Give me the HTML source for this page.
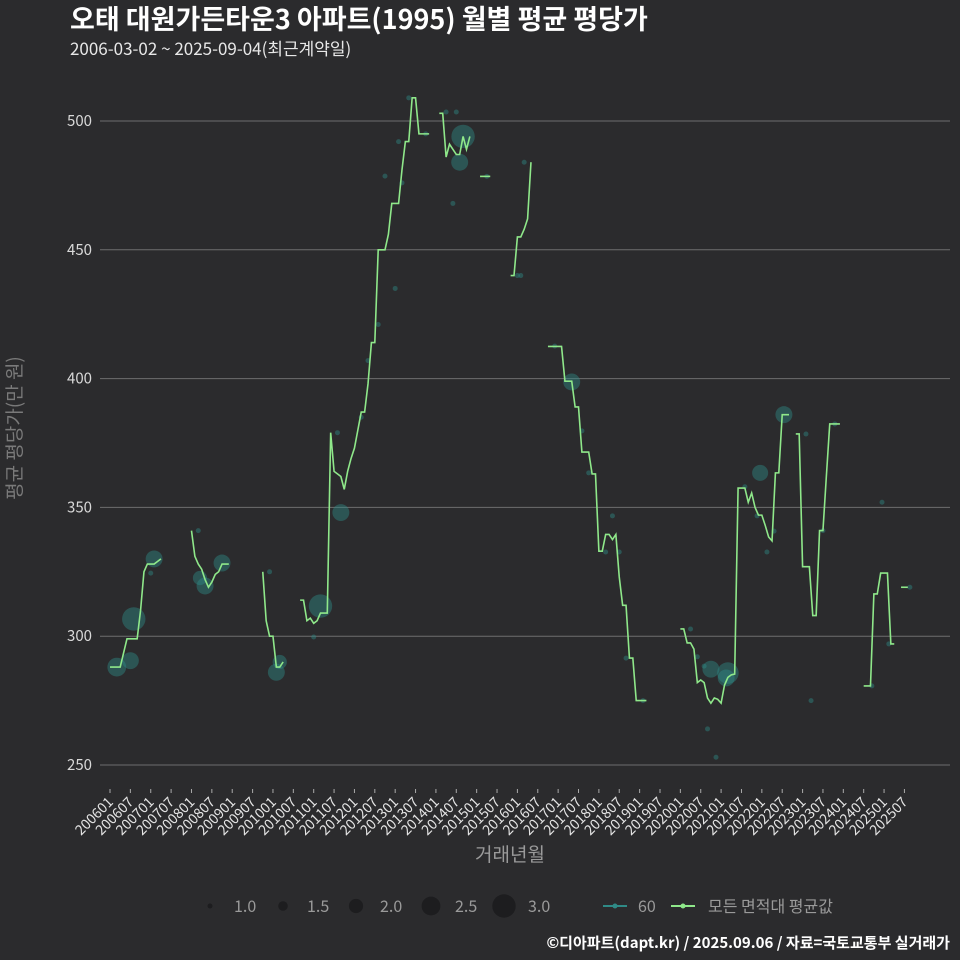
<!DOCTYPE html>
<html><head><meta charset="utf-8"><style>
body{margin:0;background:#2b2b2d;}
svg{display:block;font-family:"Noto Sans CJK KR","Liberation Sans",sans-serif;}
</style></head><body>
<svg id="chart" width="960" height="960" viewBox="0 0 960 960">
<rect width="960" height="960" fill="#2b2b2d"/>
<text x="70" y="29" font-size="27" font-weight="bold" fill="#ffffff">오태 대원가든타운3 아파트(1995) 월별 평균 평당가</text>
<text x="70" y="55" font-size="17" fill="#e8e8e8">2006-03-02 ~ 2025-09-04(최근계약일)</text>
<g id="grid"></g>
<g id="bubbles"></g>
<g id="lines"></g>
<g id="xaxis"></g>
<text x="510" y="861" font-size="19" fill="#9a9a9a" text-anchor="middle">거래년월</text>
<text transform="translate(21,428) rotate(-90)" font-size="19" fill="#7a7a7a" text-anchor="middle">평균 평당가(만 원)</text>
<g id="legend"></g>
<text x="950" y="948" font-size="15" font-weight="bold" fill="#ffffff" text-anchor="end">©디아파트(dapt.kr) / 2025.09.06 / 자료=국토교통부 실거래가</text>
</svg>
<script>
const yTicks=[250,300,350,400,450,500];
const lineSegments=[
[[0,288],[3,288],[5,299],[8,299],[9,310],[10,325],[11,328],[13,328],[15,330]],
[[24,341],[25,331],[26,328],[27,326],[28,322],[29,319],[30,321],[31,324],[32,325],[33,328],[35,328]],
[[45,325],[46,306],[47,300],[48,300],[49,288],[50,288],[51,290]],
[[56,314],[57,314],[58,306],[59,307],[60,305],[61,306],[62,309],[63,309],[64,309],[65,379],[66,364],[67,363],[68,362],[69,357],[70,364],[71,369],[72,373],[73,380],[74,387],[75,387],[76,398],[77,414],[78,414],[79,450],[80,450],[81,450],[82,456],[83,468],[84,468],[85,468],[86,481],[87,492],[88,492],[89,509],[90,509],[91,495],[92,495],[93,495],[94,495]],
[[97,503],[98,503],[99,486],[100,491],[101,489],[102,487],[103,487],[104,494],[105,489],[106,494]],
[[109,478.5],[112,478.5]],
[[118,440],[119,440],[120,455],[121,455],[122,458],[123,462],[124,484]],
[[129,412.5],[133,412.5],[134,399],[136,399],[137,389],[138,389],[139,371.5],[141,371.5],[142,363],[143,363],[144,333],[145,333],[146,339.5],[147,339.5],[148,337.5],[149,339.5],[150,323],[151,312],[152,312],[153,291.5],[154,291.5],[155,275],[158,275]],
[[168,302.8],[169,302.8],[170,297.4],[171,297.4],[172,295],[173,282],[174,283],[175,282],[176,276],[177,274],[178,276],[179,275.5],[180,274],[181,281],[182,284],[183,285],[184,285.3],[185,357.5],[187,357.5],[188,352],[189,355.6],[190,350],[191,347],[192,347],[193,343],[194,338.5],[195,337],[196,363.4],[197,363.4],[198,386],[200,386]],
[[202,378.5],[203,378.5],[204,327],[206,327],[207,308],[208,308],[209,341],[210,341],[211,362],[212,382.4],[215,382.4]],
[[222,280.7],[224,280.7],[225,316.4],[226,316.4],[227,324.5],[229,324.5],[230,297],[231,297]],
[[233,319],[235,319]]
];
const bubbleMonths=[2,6,7,12,13,26,26.5,28,33,47,49,50,60,62,68,67,74,76,79,84,81,86,85,88,93,99,102,104,103,101,111,122,120,121,131,136,139,141,148,146,150,152,157,171,173,175,177,182,181.5,176,178.5,187,191.5,190.6,193.5,195.6,198.5,205,206.5,210,213.5,224.4,227.4,229.4,235.6];
const bubbleValues=[288,290.5,306.7,324.5,330,341,322.6,319.5,328.4,325,286,290,299.7,311.7,348,379,385,407,421,435,478.6,476,492,509,495,503.5,503.5,494,484,468,478.5,484,440,440,412.6,398.7,379.7,363.4,346.7,332.7,332.7,291.5,275,302.8,292,288.4,287.2,285.7,283.8,264,253,358,363.4,346.7,332.7,340.8,386,378.5,275,341,382.4,280.7,352,297,319];
const bubbleSizes=[2.5,2.3,3,1,2.3,1,2,2.3,2.3,1,2.3,2,1,3,2.3,1,1,1,1,1,1,1,1,1,1,1,1,3,2.3,1,1,1,1,1,1,2.3,1,1,1,1,1,1,1,1,1,1,2.3,2.8,2.3,1,1,1,2.2,1,1,1,2.3,1,1,1,1,1,1,1,1];
const xTickLabels=[];
for(let y=2006;y<=2025;y++){xTickLabels.push(y+'01');xTickLabels.push(y+'07');}
const NS='http://www.w3.org/2000/svg';
const X0=110,XS=3.395,Y0=765,YS=2.576;
function xs(m){return X0+m*XS;}
function ys(v){return Y0-(v-250)*YS;}
function rs(s){return 2.5+(s-1)*4.6;}
function mk(tag,attrs,parent){const e=document.createElementNS(NS,tag);for(const k in attrs)e.setAttribute(k,attrs[k]);parent.appendChild(e);return e;}
const grid=document.getElementById('grid');
yTicks.forEach(v=>{
  const l=mk('line',{x1:100,x2:950,y1:ys(v),y2:ys(v),stroke:'#6e6e6e','stroke-width':1},grid);
  
  
  const t=mk('text',{x:92,y:ys(v)+5,'font-size':15,fill:'#d8d8d8','text-anchor':'end'},grid);
  t.textContent=v;
  
  
});
const xa=document.getElementById('xaxis');
xTickLabels.forEach((lab,i)=>{
  const x=xs(i*6);
  const tk=mk('line',{x1:x,x2:x,y1:789,y2:793,stroke:'#aaaaaa'},xa);
  
  
  const t=mk('text',{transform:`translate(${x+4},${803}) rotate(-45)`,'font-size':14,fill:'#e4e4e4','text-anchor':'end'},xa);
  t.textContent=lab;
  
  
});
const bg=document.getElementById('bubbles');
bubbleMonths.forEach((m,i)=>{
  const c=mk('circle',{cx:xs(m),cy:ys(bubbleValues[i]),r:rs(bubbleSizes[i]),fill:'#2f8a86','fill-opacity':0.45},bg);
  
  
});
const lg=document.getElementById('lines');
lineSegments.forEach(seg=>{
  const p=mk('polyline',{points:seg.map(d=>xs(d[0])+','+ys(d[1])).join(' '),fill:'none',stroke:'#8fe88a','stroke-width':1.6},lg);
  
  
});
const leg=document.getElementById('legend');
const sizeLegend=[1,1.5,2,2.5,3];
const sizeX=[210,283,356,431,504];
sizeLegend.forEach((s,i)=>{
  const c=mk('circle',{cx:sizeX[i],cy:906,r:rs(s),fill:'#1d1d1f'},leg);
  
  
  const t=mk('text',{x:sizeX[i]+24,y:912,'font-size':16,fill:'#9a9a9a'},leg);
  t.textContent=s.toFixed(1);
  
  
});
const l1=mk('line',{x1:603,x2:627,y1:906,y2:906,stroke:'#2f8a86','stroke-width':2},leg);


const c1=mk('circle',{cx:615,cy:906,r:2.5,fill:'#2f8a86'},leg);


const t1=mk('text',{x:638,y:912,'font-size':16,fill:'#9a9a9a'},leg);
t1.textContent='60';


const l2=mk('line',{x1:671,x2:695,y1:906,y2:906,stroke:'#8fe88a','stroke-width':2},leg);


const c2=mk('circle',{cx:683,cy:906,r:2.5,fill:'#8fe88a'},leg);


const t2=mk('text',{x:708,y:912,'font-size':16,fill:'#9a9a9a'},leg);
t2.textContent='모든 면적대 평균값';


</script>
</body></html>
